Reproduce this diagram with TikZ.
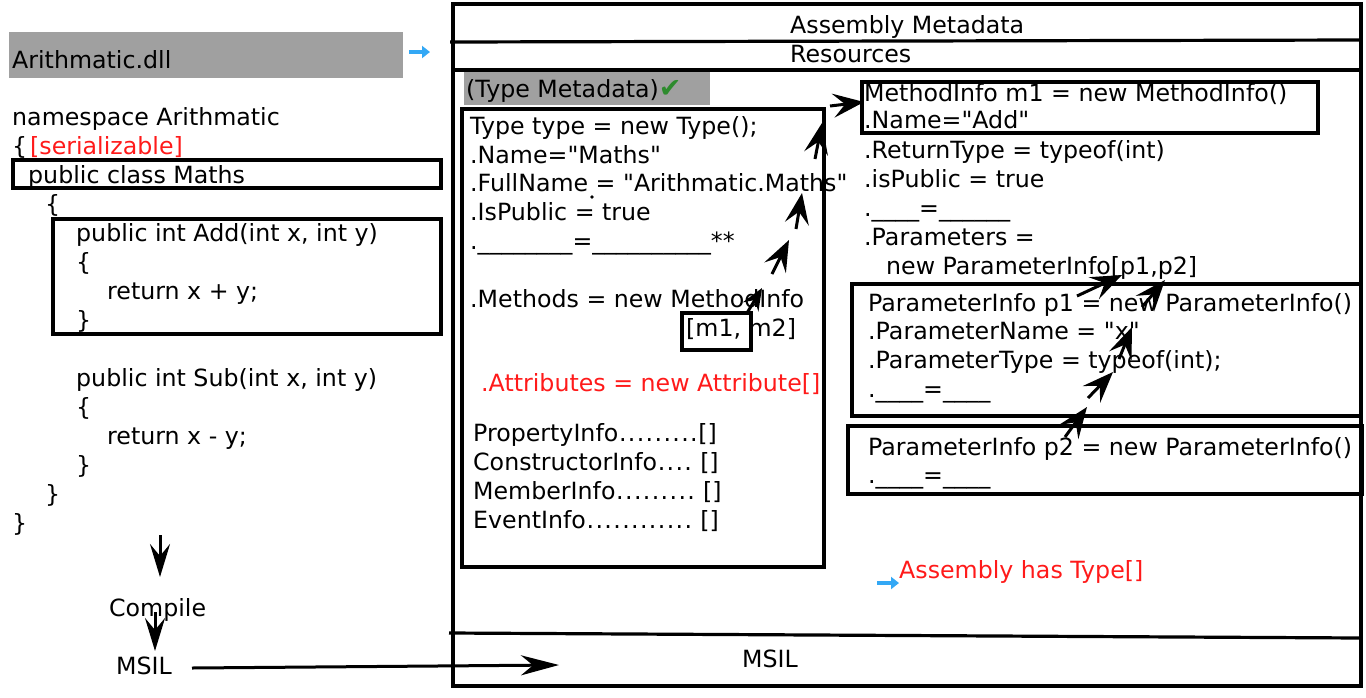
\documentclass[tikz,border=0pt]{standalone}
\usepackage{fontspec}
\newfontfamily\dv{DejaVu Sans}
\usetikzlibrary{arrows.meta}
\definecolor{grayfill}{HTML}{A0A0A0}
\definecolor{redtxt}{HTML}{FF1A1A}
\definecolor{bluearr}{HTML}{33A8F5}
\definecolor{greenchk}{HTML}{2E8B2E}
\newcommand\cl[4]{\node[txt] (#1) at (#2,#3) {#4};}
\newcommand\us[1]{\foreach \k in {1,...,#1}{\_}}
\newcommand\dts[1]{\foreach \k in {1,...,#1}{\makebox[8.9pt]{.}}}
\begin{document}
\begin{tikzpicture}[x=1pt,y=-1pt,
  txt/.style={anchor=base west, inner sep=0pt, font=\dv\fontsize{23.7}{29}\selectfont},
  redt/.style={txt, text=redtxt},
  box/.style={draw=black, line width=3.2pt},
  gbox/.style={fill=grayfill, draw=none},
  arr/.style={line width=3pt, -{Stealth[length=33pt,width=20pt,inset=12pt]}},
  harr/.style={line width=3pt, -{Stealth[length=31pt,width=24pt,inset=12pt]}},
  sarr/.style={line width=3pt, -{Stealth[length=22pt,width=18pt,inset=8pt]}},
  barr/.style={draw=bluearr, line width=3.5pt, -{Triangle[length=8pt,width=12pt]}}]
\useasboundingbox (0,0) rectangle (1366,697);

% ---------- left column ----------
\path[gbox] (9,32) rectangle (403,78);
\cl{dll}{12}{68}{Arithmatic.dll}
\coordinate (ba1) at (409,52); \coordinate (ba2) at (430,52);
\draw[barr] (ba1) -- (ba2);

\cl{ns}{12}{125}{namespace Arithmatic}
\cl{ob1}{12}{154}{\{}
\node[redt] (ser) at (30,154) {[serializable]};
\path[box] (13,160) rectangle (441,188);
\cl{pcm}{28}{183}{public class Maths}
\cl{ob2}{45}{212}{\{}
\path[box] (53,219) rectangle (441,334);
\cl{add1}{76}{241}{public int Add(int x, int y)}
\cl{add2}{76}{270}{\{}
\cl{add3}{107}{299}{return x + y;}
\cl{add4}{76}{328}{\}}
\cl{sub1}{76}{386}{public int Sub(int x, int y)}
\cl{sub2}{76}{415}{\{}
\cl{sub3}{107}{444}{return x - y;}
\cl{sub4}{76}{473}{\}}
\cl{cb2}{45}{502}{\}}
\cl{cb1}{12}{531}{\}}

\coordinate (d1a) at (160,535); \coordinate (d1b) at (160,577);
\draw[arr] (d1a) -- (d1b);
\cl{compile}{109}{616}{Compile}
\coordinate (d2a) at (155,612); \coordinate (d2b) at (155,651);
\draw[arr] (d2a) -- (d2b);
\cl{msilL}{116}{674}{MSIL}
\coordinate (m1) at (192,668); \coordinate (m2) at (559,665);
\draw[line width=3pt, -{Stealth[length=38pt,width=20pt,inset=12pt]}] (m1) -- (m2);

% ---------- assembly frame ----------
\path[box] (453,4) rectangle (1361,686);
\draw[line width=3.2pt] (450,42) -- (1361,40);
\draw[line width=3.2pt] (453,70) -- (1361,70);
\draw[line width=3.2pt] (449,633) -- (1361,638);
\cl{am}{790}{33}{Assembly Metadata}
\cl{res}{790}{62}{Resources}
\cl{msilR}{742}{667}{MSIL}

% ---------- type metadata ----------
\path[gbox] (464,72) rectangle (710,105);
\cl{tm}{466}{97}{(Type Metadata)\textcolor{greenchk}{\fontsize{27}{29}\selectfont ✔}}
\path[box] (462,109) rectangle (824,567);
\cl{t1}{470}{134}{Type type = new Type();}
\cl{t2}{470}{163}{.Name="Maths"}
\cl{t3}{470}{191.5}{.FullName = "Arithmatic.Maths"}
\fill (592,197) circle (1.8pt);
\cl{t4}{470}{220}{.IsPublic = true}
\cl{t5}{470}{249}{.\us{8}=\us{10}**}
\cl{t6}{470}{307}{.Methods = new MethodInfo}
\path[box] (682,313) rectangle (751,350);
\cl{t7}{686}{336}{[m1, m2]}
\node[redt] (attr) at (481,391) {.Attributes = new Attribute[]};
\cl{pi}{473}{441}{PropertyInfo\dts{9}[]}
\cl{ci}{473}{470}{ConstructorInfo\dts{4} []}
\cl{mi}{473}{499}{MemberInfo\dts{9} []}
\cl{ei}{473}{528}{EventInfo\dts{12} []}

% ---------- method info ----------
\path[box] (862,82) rectangle (1318,133);
\cl{r1}{864}{101}{MethodInfo m1 = new MethodInfo()}
\cl{r2}{864}{128}{.Name="Add"}
\cl{r3}{864}{158}{.ReturnType = typeof(int)}
\cl{r4}{864}{187}{.isPublic = true}
\cl{r5}{864}{216}{.\us{4}=\us{6}}
\cl{r6}{864}{245}{.Parameters =}
\cl{r7}{886}{274}{new ParameterInfo[p1,p2]}

\path[box] (852,284) rectangle (1361,416);
\cl{p11}{868}{311}{ParameterInfo p1 = new ParameterInfo()}
\cl{p12}{868}{339.5}{.ParameterName = "x"}
\cl{p13}{868}{368}{.ParameterType = typeof(int);}
\cl{p14}{868}{397}{.\us{4}=\us{4}}

\path[box] (848,426) rectangle (1362,494);
\cl{p21}{868}{455}{ParameterInfo p2 = new ParameterInfo()}
\cl{p22}{868}{483}{.\us{4}=\us{4}}

\coordinate (bb1) at (877,583); \coordinate (bb2) at (899,583);
\draw[barr] (bb1) -- (bb2);
\node[redt] (ahas) at (899,578) {Assembly has Type[]};

% ---------- chain of arrows: m1,m2 -> MethodInfo ----------
\coordinate (a1s) at (747,313); \coordinate (a1e) at (762,288);
\coordinate (a2s) at (772,274); \coordinate (a2e) at (789,240);
\coordinate (a3s) at (796,229); \coordinate (a3e) at (802,193);
\coordinate (a4s) at (815,159); \coordinate (a4e) at (822,123);
\coordinate (a5s) at (830,106); \coordinate (a5e) at (864,102);
\draw[sarr] (a1s) -- (a1e);
\draw[harr] (a2s) -- (a2e);
\draw[harr] (a3s) -- (a3e);
\draw[harr] (a4s) -- (a4e);
\draw[harr] (a5s) -- (a5e);

% ---------- chain of arrows: p2 -> p1 -> [p1,p2] ----------
\coordinate (b1s) at (1065,437); \coordinate (b1e) at (1087,407);
\coordinate (b2s) at (1088,398); \coordinate (b2e) at (1113,372);
\coordinate (b3s) at (1119,359); \coordinate (b3e) at (1132,327);
\coordinate (b4s) at (1077,296); \coordinate (b4e) at (1122,275);
\coordinate (b5s) at (1142,307); \coordinate (b5e) at (1165,280);
\draw[harr] (b1s) -- (b1e);
\draw[harr] (b2s) -- (b2e);
\draw[harr] (b3s) -- (b3e);
\draw[harr] (b4s) -- (b4e);
\draw[harr] (b5s) -- (b5e);
\end{tikzpicture}
\end{document}
